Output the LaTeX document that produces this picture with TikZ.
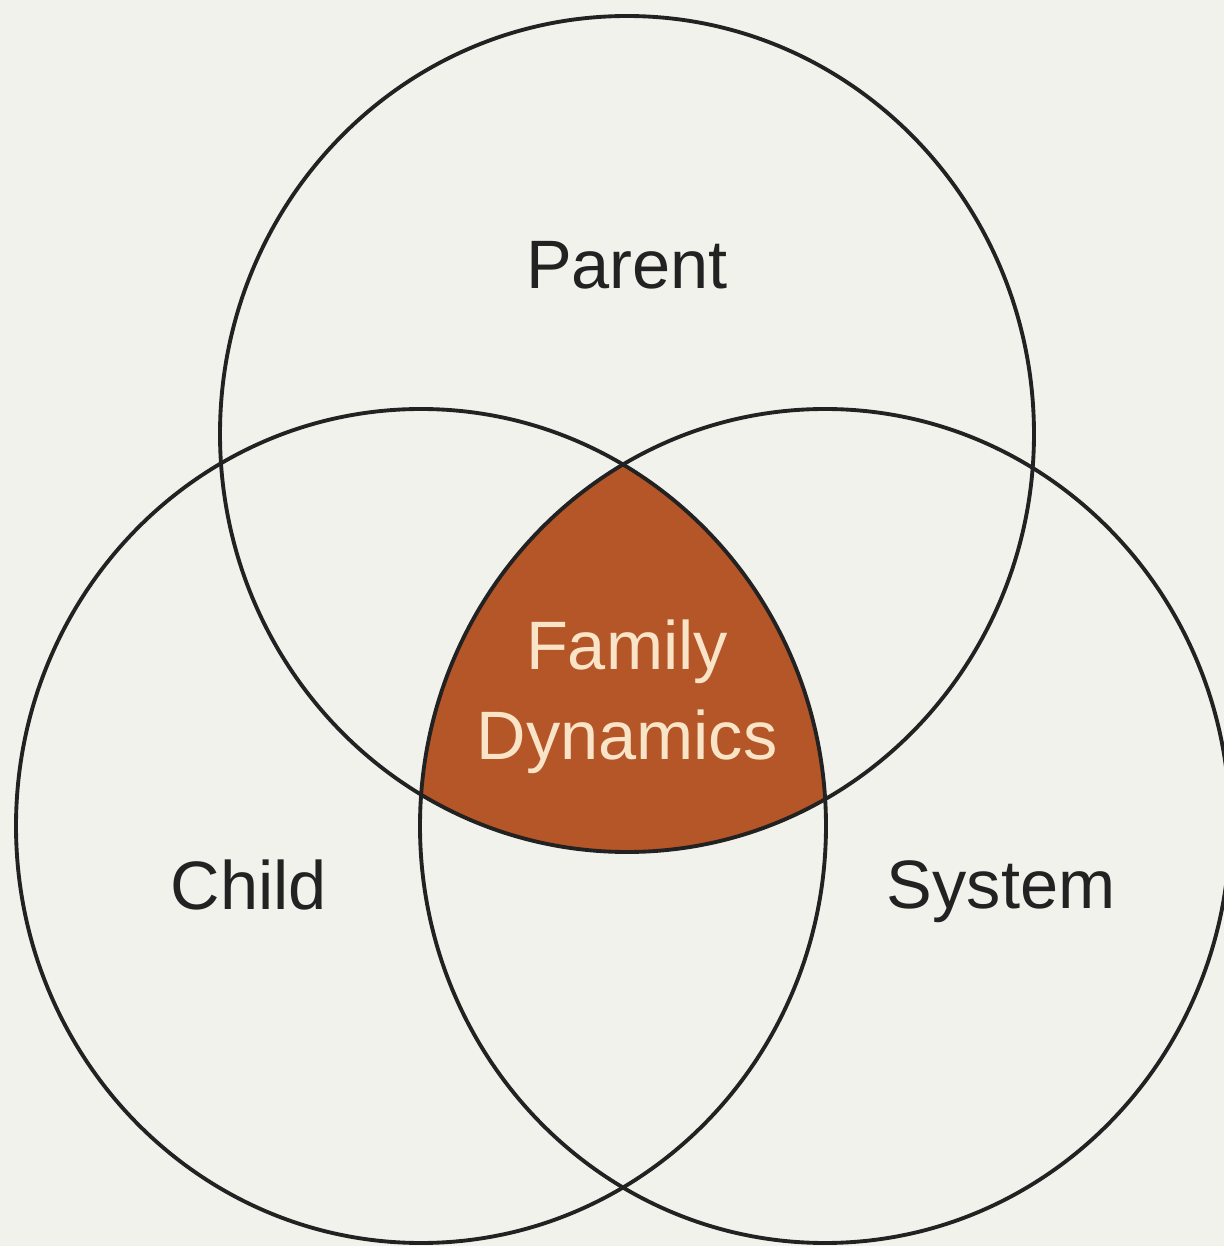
\documentclass[tikz,border=0pt]{standalone}
\usepackage{fontspec}
\usepackage{xcolor}
\usepackage{tikz}
\setmainfont{Liberation Sans}
\definecolor{bgpaper}{RGB}{242,242,237}
\definecolor{ringline}{RGB}{34,34,34}
\definecolor{famfill}{RGB}{180,86,40}
\definecolor{famtext}{RGB}{250,228,200}

\begin{document}
\begin{tikzpicture}[
	ring/.style={draw=ringline, line width=1.1pt},
	setlabel/.style={font=\fontsize{19.5}{24}\selectfont, text=ringline},
	corelabel/.style={font=\fontsize{19.5}{25.5}\selectfont, text=famtext, align=center}
	]
			\fill[bgpaper] (0,0) rectangle (12.24,12.46);
			\useasboundingbox (0,0) rectangle (12.24,12.46);
			
			\coordinate (p) at (6.27,8.12);
			\coordinate (c) at (4.21,4.20);
			\coordinate (s) at (8.25,4.20);
			
			% common part of the three sets
			\begin{scope}
			\clip (c) ellipse (4.05cm and 4.17cm);
			\clip (s) ellipse (4.05cm and 4.17cm);
			\fill[famfill] (p) ellipse (4.07cm and 4.18cm);
			\end{scope}
			
			\draw[ring] (p) ellipse (4.07cm and 4.18cm);
			\draw[ring] (c) ellipse (4.05cm and 4.17cm);
			\draw[ring] (s) ellipse (4.05cm and 4.17cm);
			
			\node[setlabel, above of=p, yshift=0.69cm] (parent) {Parent};
			\node[setlabel, left of=c, xshift=-0.72cm, yshift=-0.59cm] (child) {Child};
			\node[setlabel, right of=s, xshift=0.76cm, yshift=-0.66cm] (system) {System};
			\node[corelabel, below of=p, yshift=-1.63cm] (family) {Family\\Dynamics};
			
\end{tikzpicture}
\end{document}
